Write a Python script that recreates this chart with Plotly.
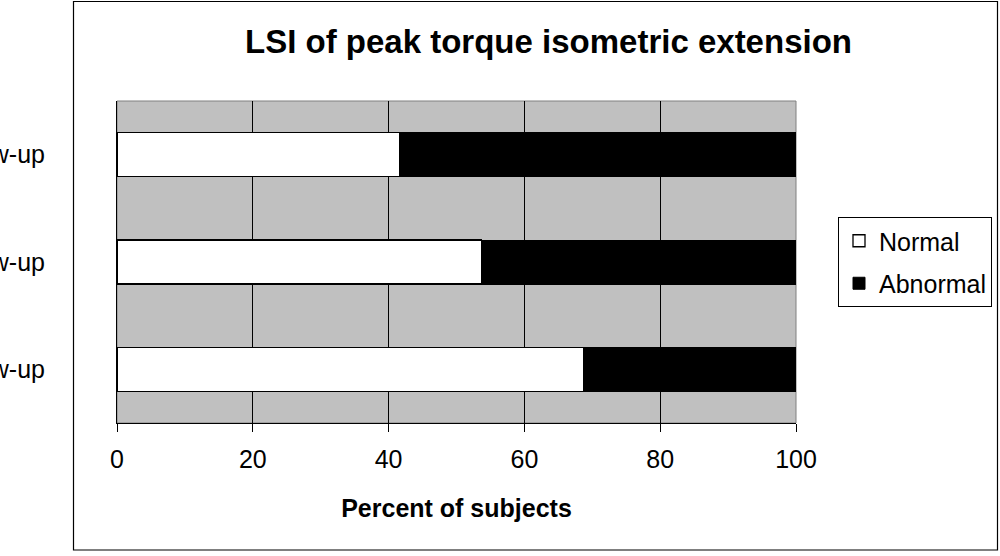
import plotly.graph_objects as go

# Data (top to bottom)
categories = ["3-month follow-up", "6-month follow-up", "12-month follow-up"]
normal = [41.7, 53.7, 68.7]
abnormal = [58.3, 46.3, 31.3]
x_ticks = [0, 20, 40, 60, 80, 100]

FONT = "Liberation Sans, Arial, sans-serif"

fig = go.Figure()
fig.add_trace(go.Bar(
    y=categories, x=normal, name="Normal", orientation="h", legendgroup="n",
    marker=dict(color="white", line=dict(color="black", width=1.3)),
))
fig.add_trace(go.Bar(
    y=categories, x=abnormal, name="Abnormal", orientation="h", legendgroup="a",
    marker=dict(color="black", line=dict(color="black", width=1)),
))

L, R, T, B = 117, 204, 101, 133
pw, ph = 1000 - L - R, 556 - T - B

def px(xp):
    return (xp - L) / pw

def py(yp):
    return (556 - B - yp) / ph

fig.update_layout(
    width=1000, height=556,
    margin=dict(l=L, r=R, t=T, b=B, autoexpand=False),
    barmode="stack", bargap=0.59,
    paper_bgcolor="white", plot_bgcolor="#C0C0C0",
    font=dict(family=FONT, size=25, color="black"),
    title=dict(text="<b>LSI of peak torque isometric extension</b>",
               font=dict(size=33, family=FONT, color="black"),
               x=548.5 / 1000, xanchor="center", y=1 - 41 / 556, yanchor="middle"),
    legend=dict(x=px(838), xanchor="left", y=py(217), yanchor="top",
                bordercolor="black", borderwidth=1, bgcolor="white",
                font=dict(size=25, family=FONT), traceorder="grouped",
                tracegroupgap=7),
    xaxis=dict(range=[0, 100], tickvals=x_ticks, showgrid=True, gridcolor="black",
               gridwidth=1, showline=True, linecolor="black", linewidth=1,
               ticks="outside", ticklen=8, tickcolor="black", zeroline=False,
               tickfont=dict(size=25), fixedrange=True, ticklabelstandoff=6,
               title=dict(text="<b>Percent of subjects</b>", font=dict(size=25), standoff=27)),
    yaxis=dict(autorange="reversed", showgrid=False, showline=True, linecolor="black",
               linewidth=1, ticks="", ticklabelstandoff=66, tickfont=dict(size=25)),
    shapes=[
        dict(type="rect", xref="paper", yref="paper", x0=0, x1=1, y0=0, y1=1,
             line=dict(color="#808080", width=1), layer="below"),
        dict(type="rect", xref="paper", yref="paper", x0=px(73.5), x1=px(997.5),
             y0=py(550), y1=py(1.5), line=dict(color="black", width=1.2), layer="below"),
    ],
)

fig.write_html("out.html", config={"displayModeBar": False},
               post_script="document.body.style.margin='0';")
